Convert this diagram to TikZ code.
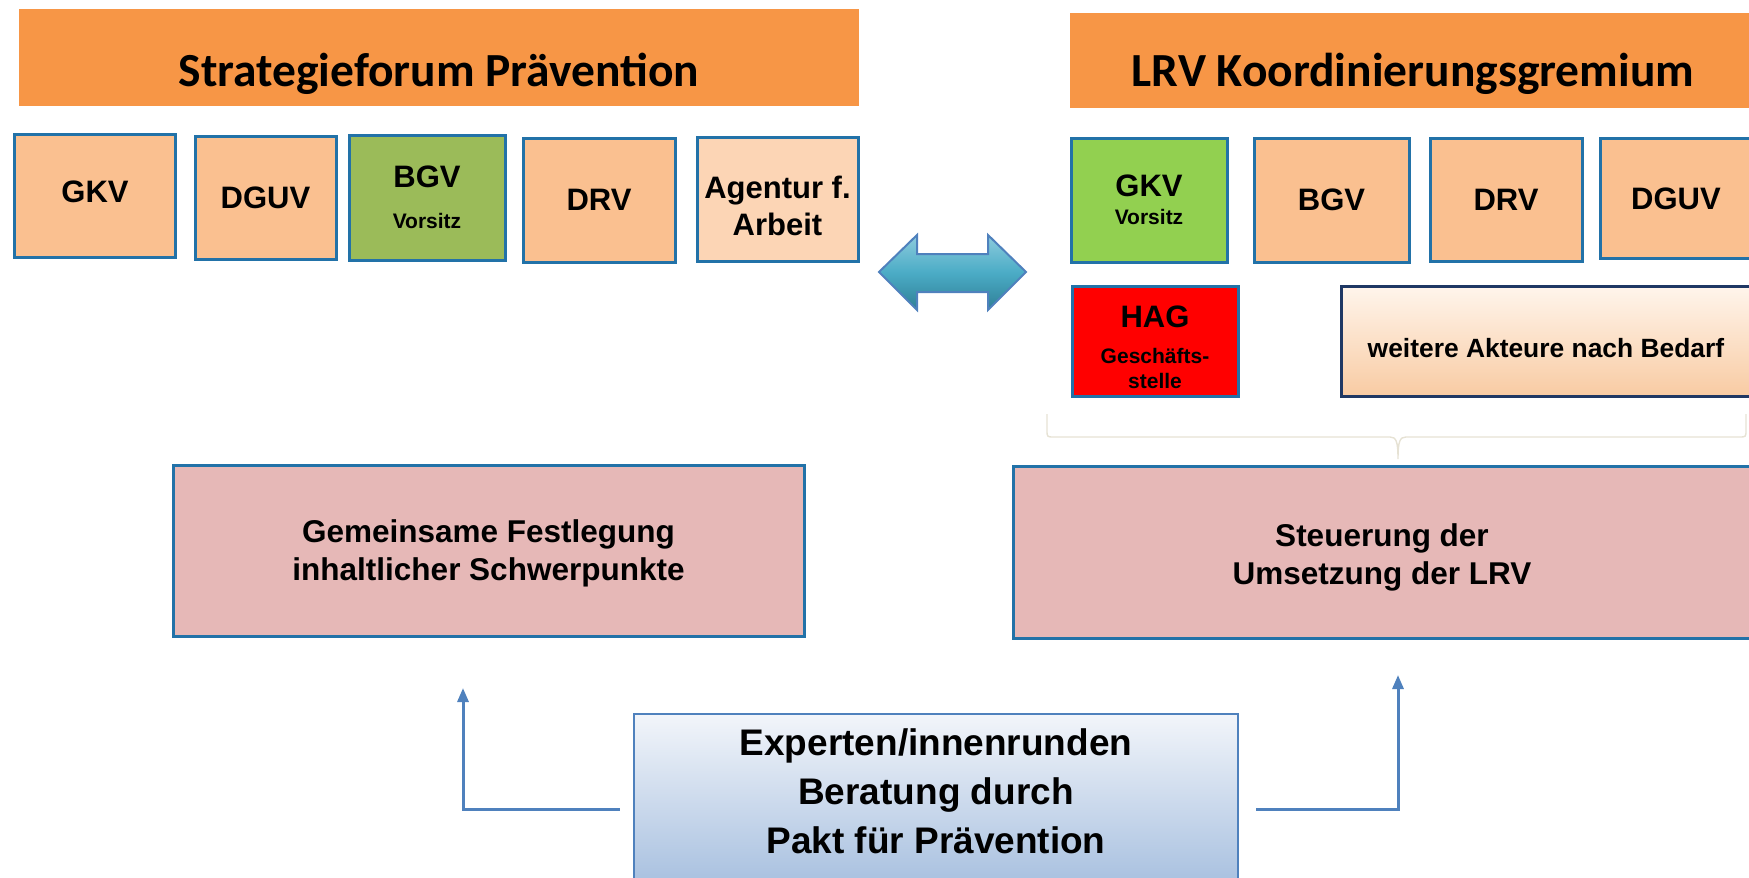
\documentclass[tikz,border=0pt]{standalone}
\usepackage{fontspec}
\setmainfont{Liberation Sans}
\newfontfamily\calib{Carlito}
\usetikzlibrary{arrows.meta}
\definecolor{orange1}{HTML}{F79646}
\definecolor{peach}{HTML}{FAC090}
\definecolor{peachlt}{HTML}{FCD5B5}
\definecolor{greenA}{HTML}{9BBB59}
\definecolor{greenB}{HTML}{92D050}
\definecolor{redA}{HTML}{FF0000}
\definecolor{boxblue}{HTML}{2272A8}
\definecolor{navy}{HTML}{1F3864}
\definecolor{pinkA}{HTML}{E6B8B7}
\definecolor{lineblue}{HTML}{4F81BD}
\definecolor{bracec}{HTML}{E6E2D4}
\definecolor{daTop}{HTML}{8DCBDD}
\definecolor{daMid}{HTML}{4BACC6}
\definecolor{daBot}{HTML}{2F7F96}
\definecolor{weiTop}{HTML}{FFF5EC}
\definecolor{weiBot}{HTML}{F8CBA3}
\definecolor{botTop}{HTML}{F2F5FA}
\definecolor{botBot}{HTML}{A9C1E0}
\tikzset{
  banner/.style={rectangle, fill=orange1, inner sep=0pt},
  titletext/.style={font=\calib\bfseries\fontsize{47.5}{57}\selectfont, anchor=base, inner sep=0pt},
  org/.style={rectangle, draw=boxblue, line width=3pt, fill=peach, align=center, inner sep=0pt,
    font=\bfseries\fontsize{31}{37}\selectfont},
  orgsmall/.style={org, font=\bfseries\fontsize{21}{25}\selectfont},
  pinkbox/.style={rectangle, draw=boxblue, line width=3pt, fill=pinkA, align=center, inner sep=0pt,
    font=\bfseries\fontsize{31.5}{38}\selectfont},
  arr/.style={draw=lineblue, line width=3pt, -{Triangle[length=14pt,width=11pt]}},
}
\begin{document}
\begin{tikzpicture}[x=1pt,y=-1pt]
\useasboundingbox (0,0) rectangle (1749,878);
% banners
\node[banner, minimum width=840, minimum height=97] (ban1) at (439,57.5) {};
\node[titletext] (t1) at (439,86) {Strategieforum Prävention};
\node[banner, minimum width=686, minimum height=95] (ban2) at (1413,60.5) {};
\node[titletext] (t2) at (1413,86) {LRV Koordinierungsgremium};
% left row
\node[org, minimum width=161, minimum height=123] (l1) at (95,195.5) {GKV\rule[-8pt]{0pt}{0pt}};
\node[org, minimum width=141, minimum height=123] (l2) at (265.5,197.5) {DGUV};
\node[orgsmall, fill=greenA, minimum width=156, minimum height=125] (l3) at (427,197.5)
  {{\fontsize{31}{37}\selectfont BGV}\\[16pt]Vorsitz};
\node[org, minimum width=152, minimum height=124] (l4) at (599,200) {DRV};
\node[org, fill=peachlt, minimum width=161, minimum height=124] (l5) at (777.5,199)
  {\rule{0pt}{36pt}Agentur f.\\Arbeit};
% right row
\node[orgsmall, fill=greenB, minimum width=156, minimum height=124] (r1) at (1149,200)
  {{\fontsize{31}{37}\selectfont GKV}\\[3.5pt]Vorsitz};
\node[org, minimum width=155, minimum height=124] (r2) at (1331.5,200) {BGV};
\node[org, minimum width=152, minimum height=123] (r3) at (1506,199.5) {DRV};
\node[org, minimum width=152, minimum height=120] (r4) at (1676,198.5) {DGUV};
\node[orgsmall, fill=redA, minimum width=166, minimum height=110] (hag) at (1155,341)
  {{\fontsize{31}{37}\selectfont\rule{0pt}{34pt}HAG}\\[11.5pt]Geschäfts-\\stelle};
\node[org, draw=navy, top color=weiTop, bottom color=weiBot, minimum width=410, minimum height=110,
  font=\bfseries\fontsize{26.4}{32}\selectfont] (wei) at (1546,341) {\rule{0pt}{33pt}weitere Akteure nach Bedarf};
% brace
\draw[bracec, line width=1.4pt] (1047,414) -- (1047,430) .. controls (1047,437) .. (1054,437) -- (1390,437)
  .. controls (1396,437) and (1398,441) .. (1398,459)
  .. controls (1398,441) and (1400,437) .. (1406,437) -- (1739,437)
  .. controls (1746,437) .. (1746,430) -- (1746,414);
% double arrow
\shade[top color=daTop, bottom color=daBot, middle color=daMid]
  (879,272) -- (917,235) -- (917,254) -- (988,254) -- (988,235) -- (1026,272) -- (988,310)
  -- (988,292) -- (917,292) -- (917,310) -- cycle;
\draw[lineblue, line width=2pt, line join=miter]
  (879,272) -- (917,235) -- (917,254) -- (988,254) -- (988,235) -- (1026,272) -- (988,310)
  -- (988,292) -- (917,292) -- (917,310) -- cycle;
% pink boxes
\node[pinkbox, minimum width=631, minimum height=171] (p1) at (488.5,550.5)
  {\rule{0pt}{29pt}Gemeinsame Festlegung\\inhaltlicher Schwerpunkte};
\node[pinkbox, minimum width=738, minimum height=172] (p2) at (1382,552)
  {\rule{0pt}{33pt}Steuerung der\\Umsetzung der LRV};
% bottom box
\node[rectangle, draw=lineblue, line width=2.5pt, top color=botTop, bottom color=botBot,
  minimum width=604, minimum height=168, inner sep=0pt] (bot) at (936,798) {};
\node[align=center, inner sep=0pt, font=\bfseries\fontsize{37}{49}\selectfont] (bt) at (936,791)
  {Experten/innenrunden\\Beratung durch\\Pakt für Prävention};
% arrows
\coordinate (la) at (463,688);
\coordinate (ra) at (1398,675);
\draw[arr, shorten <=13pt] ([yshift=-11pt]bot.west) -| (la);
\draw[arr, shorten <=17pt] ([yshift=-11pt]bot.east) -| (ra);
\end{tikzpicture}
\end{document}
